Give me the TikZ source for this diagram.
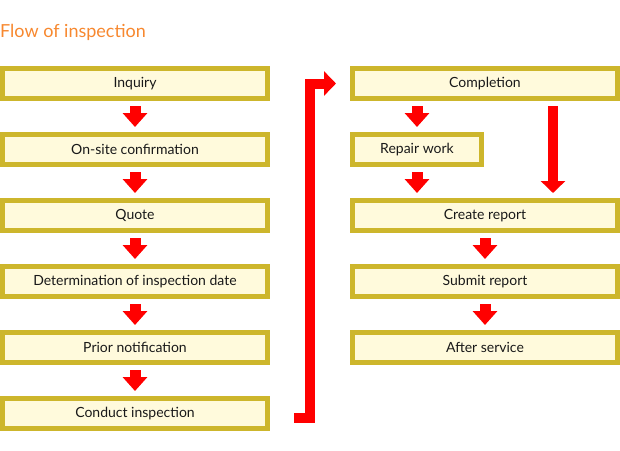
\documentclass[tikz,border=0pt]{standalone}
\usepackage{fontspec}
\setmainfont{Lato}
\usetikzlibrary{arrows.meta}

\definecolor{boxline}{HTML}{CDB62C}
\definecolor{boxfill}{HTML}{FFFADC}
\definecolor{flowred}{HTML}{FF0000}
\definecolor{titleorange}{HTML}{F7882F}

\tikzset{
  stepbox/.style={draw=boxline, fill=boxfill, line width=5pt, minimum width=265pt,
    minimum height=30pt, inner sep=0pt, font=\fontsize{14}{16}\selectfont, text=black!90},
  shortbox/.style={stepbox, minimum width=129pt},
  flowarrow/.style={draw=flowred, line width=11pt, -{Triangle[width=24pt,length=14pt]}},
  longarrow/.style={draw=flowred, line width=10pt, miter limit=10, -{Triangle[width=24pt,length=12pt]}}
}

\begin{document}
\begin{tikzpicture}[x=1pt,y=-1pt]
\useasboundingbox (0,0) rectangle (620,450);

%TITLE
\node[anchor=base west, inner sep=0pt, text=titleorange, font=\fontsize{18}{21}\selectfont] (title) at (0,37) {Flow of inspection};

%LEFT COLUMN
\node[stepbox] (inquiry) at (135,83.5) {Inquiry};
\node[stepbox] (onsite) at (135,149.5) {On-site confirmation};
\node[stepbox] (quote) at (135,215.5) {Quote};
\node[stepbox] (date) at (135,281.5) {Determination of inspection date};
\node[stepbox] (notice) at (135,347.5) {Prior notification};
\node[stepbox] (conduct) at (135,413.5) {Conduct inspection};

%RIGHT COLUMN
\node[stepbox] (completion) at (485,83.5) {Completion};
\node[shortbox] (repair) at (417,149.5) {Repair work};
\node[stepbox] (report) at (485,215.5) {Create report};
\node[stepbox] (submit) at (485,281.5) {Submit report};
\node[stepbox] (after) at (485,347.5) {After service};

%arrows left
\draw[flowarrow] ([yshift=-5pt]inquiry.south) -- ([yshift=5pt]onsite.north);
\draw[flowarrow] ([yshift=-5pt]onsite.south) -- ([yshift=5pt]quote.north);
\draw[flowarrow] ([yshift=-5pt]quote.south) -- ([yshift=5pt]date.north);
\draw[flowarrow] ([yshift=-5pt]date.south) -- ([yshift=5pt]notice.north);
\draw[flowarrow] ([yshift=-5pt]notice.south) -- ([yshift=5pt]conduct.north);

%%%%%%%%%%%%%%%%
\coordinate (foot) at (294,418);
\draw[longarrow] (foot) -- ++(16,0) |- ([xshift=-14pt]completion.west);

%arrows right
\draw[flowarrow] ([yshift=-5pt]repair.north |- completion.south) -- ([yshift=5pt]repair.north);
\draw[flowarrow] ([yshift=-5pt]repair.south) -- ([yshift=5pt]repair.south |- report.north);
\draw[longarrow] ([xshift=68pt,yshift=-5pt]completion.south) -- ([xshift=68pt,yshift=5pt]report.north);
\draw[flowarrow] ([yshift=-5pt]report.south) -- ([yshift=5pt]submit.north);
\draw[flowarrow] ([yshift=-5pt]submit.south) -- ([yshift=5pt]after.north);
\end{tikzpicture}
\end{document}
